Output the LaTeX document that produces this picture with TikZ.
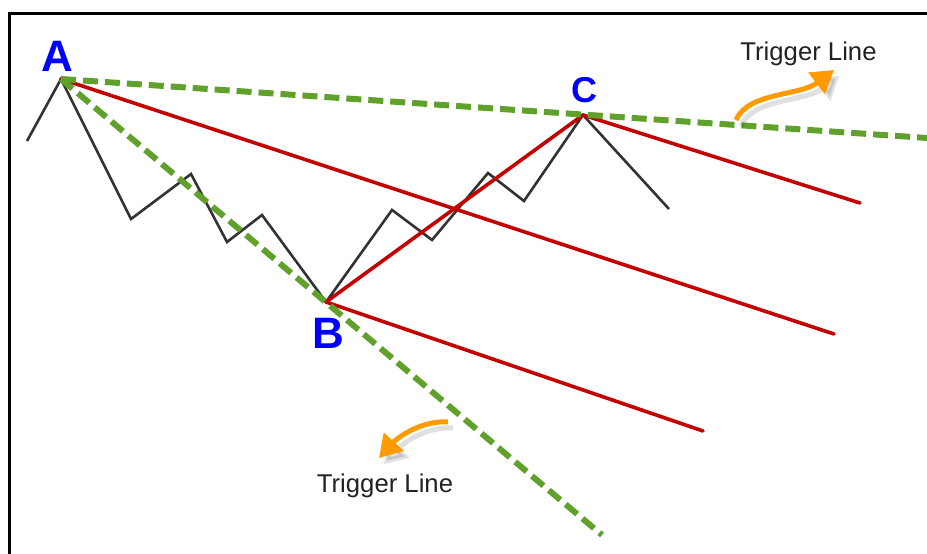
\documentclass[tikz,border=0pt]{standalone}
\usepackage{fontspec}
\setmainfont{Liberation Sans}
\usetikzlibrary{arrows.meta}
\definecolor{pgreen}{HTML}{5FA12B}
\definecolor{pred}{HTML}{C40000}
\definecolor{pblack}{HTML}{333333}
\definecolor{porange}{HTML}{FF9A00}
\definecolor{ptext}{HTML}{222222}
\tikzset{
  zig/.style={draw=pblack, line width=2.6pt, line join=miter},
  fork/.style={draw=pred, line width=3.6pt, line cap=round},
  trig/.style={draw=pgreen, line width=6pt, dash pattern=on 15pt off 7pt},
  pointlabel/.style={text=blue, font=\bfseries\fontsize{44}{50}\selectfont, anchor=base, inner sep=0pt},
  triglabel/.style={text=ptext, font=\fontsize{25.7}{30}\selectfont, anchor=base, inner sep=0pt},
  oarrow/.style={draw=porange, line width=5pt, -{Triangle[length=22pt,width=26pt]}},
  oshadow/.style={draw=black, opacity=0.12, line width=5pt, -{Triangle[length=22pt,width=28pt]}},
}
\begin{document}
\begin{tikzpicture}[x=1pt,y=-1pt]
\useasboundingbox (0,0) rectangle (927,554);
% frame
\draw[line width=3pt, black] (927,13) -- (9,13) -- (9,554);
% points
\coordinate (A) at (61,79);
\coordinate (B) at (326,302);
\coordinate (C) at (583,115);
\coordinate (z0) at (27,141);
\coordinate (z1) at (131,219);
\coordinate (z2) at (191,174);
\coordinate (z3) at (227,242);
\coordinate (z4) at (262,215);
\coordinate (z5) at (392,210);
\coordinate (z6) at (432,240);
\coordinate (z7) at (488,173);
\coordinate (z8) at (524,201);
\coordinate (z9) at (669,209);
\coordinate (rA) at (834,334);
\coordinate (rB) at (703,431);
\coordinate (rC) at (860,203);
\coordinate (gC) at (927,138);
\coordinate (gB) at (602,535);
% price zigzag
\draw[zig] (z0) -- (A) -- (z1) -- (z2) -- (z3) -- (z4) -- (B) -- (z5) -- (z6) -- (z7) -- (z8) -- (C) -- (z9);
% pitchfork
\draw[fork] (A) -- (rA);
\draw[fork] (B) -- (rB);
\draw[fork] (C) -- (rC);
\draw[fork] (B) -- (C);
% trigger lines
\draw[trig] (A) -- (gC);
\draw[trig] (A) -- (gB);
% labels
\node[pointlabel] (lA) at (57,71) {A};
\node[pointlabel] (lB) at (328,348) {B};
\node[pointlabel, font=\bfseries\fontsize{36}{40}\selectfont] (lC) at (584,102) {C};
\node[triglabel] (t1) at (808.5,60.7) {Trigger Line};
\node[triglabel] (t2) at (385,492) {Trigger Line};
% orange arrows
\coordinate (u0) at (736,120);
\coordinate (u1) at (834,70);
\coordinate (d0) at (448,422);
\coordinate (d1) at (379,458);
\draw[oshadow] ([shift={(5,6)}]u0) .. controls ([shift={(5,6)}]748,92) and ([shift={(5,6)}]800,96) .. ([shift={(5,6)}]u1);
\draw[oshadow] ([shift={(5,6)}]d0) .. controls ([shift={(5,6)}]425,420) and ([shift={(5,6)}]400,435) .. ([shift={(5,6)}]d1);
\draw[oarrow] (u0) .. controls (748,92) and (800,96) .. (u1);
\draw[oarrow] (d0) .. controls (425,420) and (400,435) .. (d1);
\end{tikzpicture}
\end{document}
